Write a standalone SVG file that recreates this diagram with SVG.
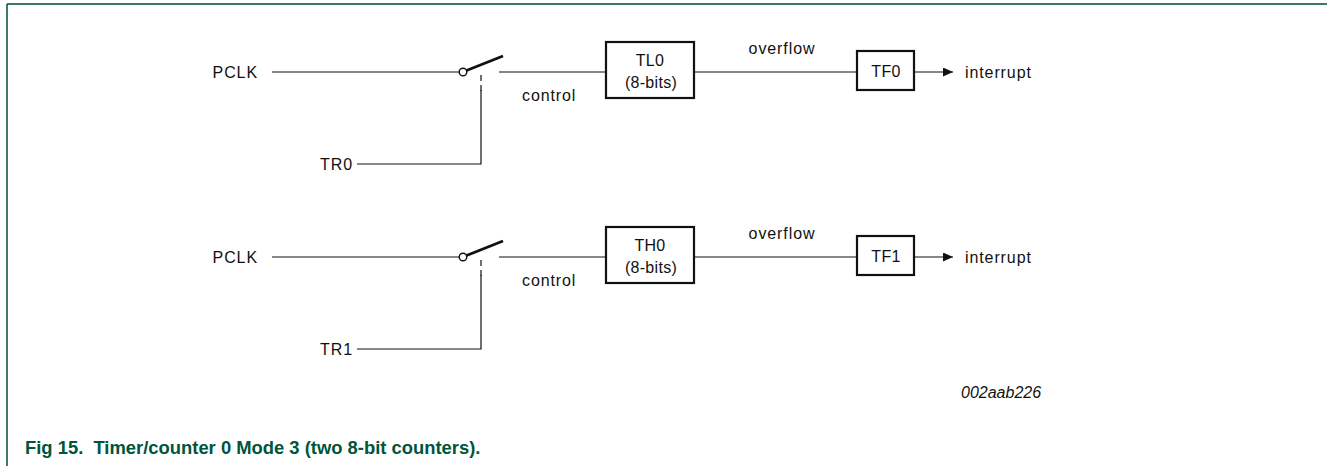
<svg xmlns="http://www.w3.org/2000/svg" width="1327" height="466" viewBox="0 0 1327 466">
  <style>
    .lbl { font-family: "Liberation Sans", Arial, sans-serif; font-size: 16px; letter-spacing: 0.9px; fill: #111; }
    .inbox { letter-spacing: 0.3px; }
    .code { font-style: italic; letter-spacing: 0; }
    .mid { text-anchor: middle; }
    .end { text-anchor: end; }
    .wire { stroke: #111; stroke-width: 1.2; fill: none; }
    .box { stroke: #111; stroke-width: 2.2; fill: #fff; }
    .blade { stroke: #111; stroke-width: 2.8; stroke-linecap: butt; fill: none; }
    .dash { stroke: #111; stroke-width: 1.2; stroke-dasharray: 6 4; fill: none; }
    .cap { font-family: "Liberation Sans", Arial, sans-serif; font-size: 18.4px; font-weight: bold; fill: #00553b; }
  </style>
  <defs>
    <marker id="arr" viewBox="0 0 10 10" refX="10" refY="5" markerWidth="10" markerHeight="9" markerUnits="userSpaceOnUse" orient="auto" preserveAspectRatio="none">
      <path d="M0,0 L10,5 L0,10 z" fill="#111"/>
    </marker>
    <!-- one timer half: clock switch, counter register, flag -->
    <g id="switch">
      <line class="wire" x1="272" y1="72" x2="459" y2="72"/>
      <circle cx="463" cy="72" r="3.8" fill="#fff" stroke="#111" stroke-width="1.4"/>
      <line class="blade" x1="466.5" y1="70.5" x2="503" y2="56"/>
      <line class="dash" x1="481" y1="75" x2="481" y2="91"/>
      <polyline class="wire" points="481,90 481,164 357,164"/>
      <line class="wire" x1="499" y1="72" x2="606" y2="72"/>
      <line class="wire" x1="694" y1="72" x2="857" y2="72"/>
      <line class="wire" x1="914" y1="72" x2="953" y2="72" marker-end="url(#arr)"/>
    </g>
  </defs>

  <!-- page frame -->
  <g id="frame" stroke="#004d3a" stroke-width="1.5" fill="none">
    <line x1="7" y1="4" x2="1327" y2="4"/>
    <line x1="7" y1="4" x2="7" y2="466"/>
  </g>

  <!-- connectors -->
  <g id="connectors">
    <use href="#switch"/>
    <use href="#switch" transform="translate(0,185)"/>
  </g>

  <!-- timer 0 low byte -->
  <g id="pclk0"><text class="lbl end" x="258" y="78">PCLK</text></g>
  <g id="tr0"><text class="lbl end" x="353" y="170">TR0</text></g>
  <g id="ctrl0"><text class="lbl" x="522" y="101">control</text></g>
  <g id="tl0">
    <rect class="box" x="606" y="42" width="88" height="56"/>
    <text class="lbl inbox mid" x="650" y="66">TL0</text>
    <text class="lbl inbox mid" x="651" y="88">(8-bits)</text>
  </g>
  <g id="ovf0"><text class="lbl mid" x="782" y="54">overflow</text></g>
  <g id="tf0">
    <rect class="box" x="857" y="51" width="57" height="39"/>
    <text class="lbl inbox mid" x="886" y="77">TF0</text>
  </g>
  <g id="int0"><text class="lbl" x="965" y="78">interrupt</text></g>

  <!-- timer 0 high byte -->
  <g id="pclk1"><text class="lbl end" x="258" y="263">PCLK</text></g>
  <g id="tr1"><text class="lbl end" x="353" y="355">TR1</text></g>
  <g id="ctrl1"><text class="lbl" x="522" y="286">control</text></g>
  <g id="th0">
    <rect class="box" x="606" y="227" width="88" height="56"/>
    <text class="lbl inbox mid" x="650" y="251">TH0</text>
    <text class="lbl inbox mid" x="651" y="273">(8-bits)</text>
  </g>
  <g id="ovf1"><text class="lbl mid" x="782" y="239">overflow</text></g>
  <g id="tf1">
    <rect class="box" x="857" y="236" width="57" height="39"/>
    <text class="lbl inbox mid" x="886" y="262">TF1</text>
  </g>
  <g id="int1"><text class="lbl" x="965" y="263">interrupt</text></g>

  <g id="ref"><text class="lbl code" x="961" y="398">002aab226</text></g>

  <g id="caption"><text class="cap" x="25" y="454" xml:space="preserve">Fig 15.  Timer/counter 0 Mode 3 (two 8-bit counters).</text></g>
</svg>
